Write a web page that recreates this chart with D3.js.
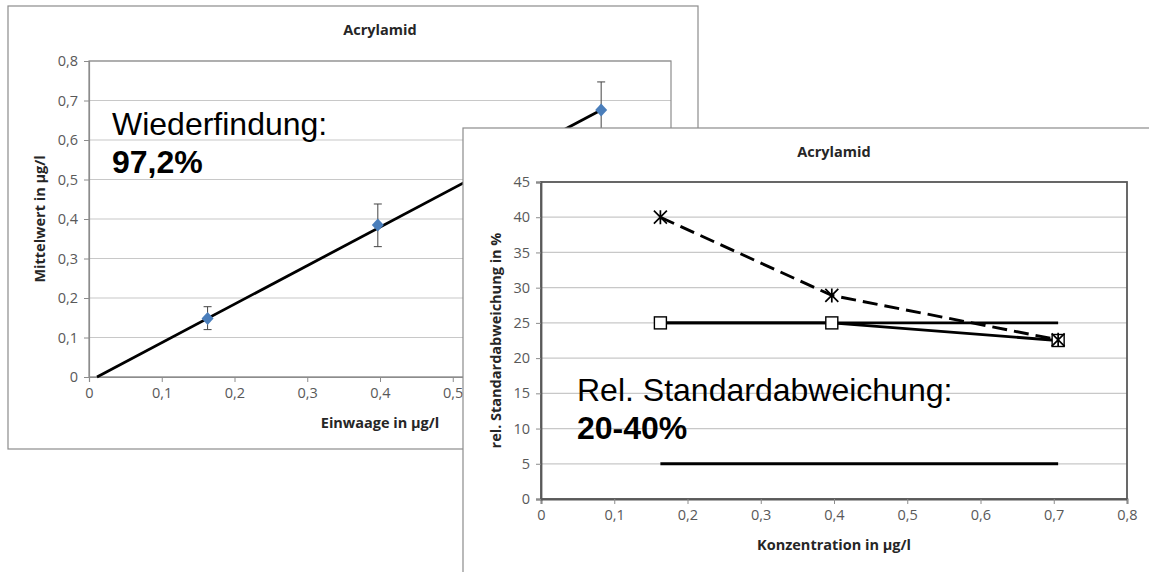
<!DOCTYPE html>
<html>
<head>
<meta charset="utf-8">
<script src="https://cdn.jsdelivr.net/npm/d3@7"></script>
<style>
  body { margin: 0; background: #fff; }
  svg { display: block; }
</style>
</head>
<body>
<svg id="chart" width="1149" height="572"></svg>
<script>
// --- Chart 1: Wiederfindung ---
var einwaage = [0.163, 0.397, 0.704];
var mittelwert = [0.148, 0.385, 0.676];
var fehlerOben = [0.178, 0.438, 0.747];
var fehlerUnten = [0.120, 0.330, 0.605];
var regX = [0.011, 0.704];
var regY = [0, 0.676];
var xTicks1 = [0, 0.1, 0.2, 0.3, 0.4, 0.5, 0.6, 0.7, 0.8];
var yTicks1 = [0, 0.1, 0.2, 0.3, 0.4, 0.5, 0.6, 0.7, 0.8];

// --- Chart 2: rel. Standardabweichung ---
var konz = [0.163, 0.397, 0.706];
var rsdStern = [40, 28.9, 22.6];
var rsdQuadrat = [25, 25, 22.5];
var grenzeOben = [25, 25, 25];
var grenzeUnten = [5, 5, 5];
var xTicks2 = [0, 0.1, 0.2, 0.3, 0.4, 0.5, 0.6, 0.7, 0.8];
var yTicks2 = [0, 5, 10, 15, 20, 25, 30, 35, 40, 45];

var de = d3.formatLocale({ decimal: ',', thousands: '.', grouping: [3], currency: ['', '€'] });
var fmt = de.format('~g');

var svg = d3.select('#chart');
var chartFont = "'Open Sans', sans-serif";
var bigFont = "'Liberation Sans', Arial, sans-serif";

// front panel box (used to drop labels of the back chart hidden under it)
var box2 = { x: 463, y: 128, w: 720, h: 470 };

function drawPanel(box, plot, xDom, yDom, xTicks, yTicks, frameColor, frameWidth) {
	var g = svg.append('g');
	g.append('rect')
		.attr('x', box.x).attr('y', box.y)
		.attr('width', box.w).attr('height', box.h)
		.attr('fill', '#fff')
		.attr('stroke', '#8c8c8c')
		.attr('stroke-width', 1.2);

	var x = d3.scaleLinear().domain(xDom).range([plot.l, plot.r]);
	var y = d3.scaleLinear().domain(yDom).range([plot.b, plot.t]);

	// gridlines
	g.selectAll('.grid')
		.data(yTicks)
		.enter()
		.append('line')
		.attr('x1', plot.l).attr('x2', plot.r)
		.attr('y1', d => y(d)).attr('y2', d => y(d))
		.attr('stroke', '#c8c8c8')
		.attr('stroke-width', 1.2);

	// plot frame
	g.append('rect')
		.attr('x', plot.l).attr('y', plot.t)
		.attr('width', plot.r - plot.l).attr('height', plot.b - plot.t)
		.attr('fill', 'none')
		.attr('stroke', frameColor)
		.attr('stroke-width', frameWidth);

	var xAxis = d3.axisBottom(x).tickValues(xTicks).tickFormat(fmt).tickSize(5).tickPadding(6);
	var yAxis = d3.axisLeft(y).tickValues(yTicks).tickFormat(fmt).tickSize(5).tickPadding(6);

	var ax = g.append('g')
		.attr('transform', 'translate(0,' + plot.b + ')')
		.call(xAxis);
	var ay = g.append('g')
		.attr('transform', 'translate(' + plot.l + ',0)')
		.call(yAxis);

	[ax, ay].forEach(a => {
		a.select('.domain').attr('stroke', frameColor).attr('stroke-width', frameWidth);
		a.selectAll('.tick line').attr('stroke', '#8c8c8c');
		a.selectAll('.tick text')
			.attr('fill', '#595959')
			.style('font', '14.5px ' + chartFont);
	});

	return { g: g, x: x, y: y, ax: ax };
}

function addTitles(p, plot, title, titleY, xLabel, xLabelY, yLabel, yLabelX) {
	var cx = (plot.l + plot.r) / 2;
	var cy = (plot.t + plot.b) / 2;
	p.g.append('text')
		.attr('x', cx).attr('y', titleY)
		.attr('text-anchor', 'middle')
		.attr('fill', '#262626')
		.style('font', 'bold 14.5px ' + chartFont)
		.text(title);
	p.g.append('text')
		.attr('x', cx).attr('y', xLabelY)
		.attr('text-anchor', 'middle')
		.attr('fill', '#262626')
		.style('font', 'bold 14.5px ' + chartFont)
		.text(xLabel);
	p.g.append('text')
		.attr('transform', 'translate(' + yLabelX + ',' + cy + ') rotate(-90)')
		.attr('text-anchor', 'middle')
		.attr('fill', '#262626')
		.style('font', 'bold 14.5px ' + chartFont)
		.text(yLabel);
}

// ---------- Panel 1 ----------
var plot1 = { l: 89, r: 671, t: 61, b: 377 };
var p1 = drawPanel({ x: 8, y: 6, w: 690, h: 443 }, plot1, [0, 0.8], [0, 0.8], xTicks1, yTicks1, '#8c8c8c', 1.2);
addTitles(p1, plot1, 'Acrylamid', 35, 'Einwaage in µg/l', 428, 'Mittelwert in µg/l', 45);

// tick labels of the back chart that sit under the front panel are hidden there
p1.ax.selectAll('.tick')
	.filter(d => p1.x(d) > box2.x)
	.select('text')
	.remove();

// regression line
p1.g.append('path')
	.datum(d3.zip(regX, regY))
	.attr('d', d3.line().x(d => p1.x(d[0])).y(d => p1.y(d[1])))
	.attr('stroke', '#000')
	.attr('stroke-width', 2.8)
	.attr('fill', 'none');

// error bars
var pts1 = einwaage.map((v, i) => ({ x: v, y: mittelwert[i], hi: fehlerOben[i], lo: fehlerUnten[i] }));
var eb = p1.g.selectAll('.eb').data(pts1).enter().append('g');
eb.append('line')
	.attr('x1', d => p1.x(d.x)).attr('x2', d => p1.x(d.x))
	.attr('y1', d => p1.y(d.hi)).attr('y2', d => p1.y(d.lo))
	.attr('stroke', '#444').attr('stroke-width', 1);
eb.append('line')
	.attr('x1', d => p1.x(d.x) - 4).attr('x2', d => p1.x(d.x) + 4)
	.attr('y1', d => p1.y(d.hi)).attr('y2', d => p1.y(d.hi))
	.attr('stroke', '#444').attr('stroke-width', 1);
eb.append('line')
	.attr('x1', d => p1.x(d.x) - 4).attr('x2', d => p1.x(d.x) + 4)
	.attr('y1', d => p1.y(d.lo)).attr('y2', d => p1.y(d.lo))
	.attr('stroke', '#444').attr('stroke-width', 1);

// diamonds
p1.g.selectAll('.dia')
	.data(pts1)
	.enter()
	.append('path')
	.attr('transform', d => 'translate(' + p1.x(d.x) + ',' + p1.y(d.y) + ')')
	.attr('d', 'M0,-6.5L6,0L0,6.5L-6,0Z')
	.attr('fill', '#4a7ebb');

p1.g.append('text')
	.attr('x', 112).attr('y', 135)
	.attr('fill', '#000')
	.style('font', '32px ' + bigFont)
	.text('Wiederfindung:');
p1.g.append('text')
	.attr('x', 112).attr('y', 173)
	.attr('fill', '#000')
	.style('font', 'bold 32px ' + bigFont)
	.text('97,2%');

// ---------- Panel 2 ----------
var plot2 = { l: 541, r: 1127, t: 182, b: 499 };
var p2 = drawPanel(box2, plot2, [0, 0.8], [0, 45], xTicks2, yTicks2, '#595959', 1.8);
addTitles(p2, plot2, 'Acrylamid', 157, 'Konzentration in µg/l', 550, 'rel. Standardabweichung in %', 501);

var line2 = d3.line().x(d => p2.x(d[0])).y(d => p2.y(d[1]));

function drawSeries(vals, dash) {
	p2.g.append('path')
		.datum(d3.zip(konz, vals))
		.attr('d', line2)
		.attr('stroke', '#000')
		.attr('stroke-width', 2.9)
		.attr('stroke-dasharray', dash)
		.attr('fill', 'none');
}

drawSeries(grenzeUnten, null);
drawSeries(grenzeOben, null);
drawSeries(rsdQuadrat, null);
drawSeries(rsdStern, '15,7');

// square markers
p2.g.selectAll('.sq')
	.data(d3.zip(konz, rsdQuadrat))
	.enter()
	.append('rect')
	.attr('x', d => p2.x(d[0]) - 6)
	.attr('y', d => p2.y(d[1]) - 6)
	.attr('width', 12).attr('height', 12)
	.attr('fill', '#fff')
	.attr('stroke', '#000')
	.attr('stroke-width', 1.4);

// star markers
p2.g.selectAll('.star')
	.data(d3.zip(konz, rsdStern))
	.enter()
	.append('path')
	.attr('transform', d => 'translate(' + p2.x(d[0]) + ',' + p2.y(d[1]) + ')')
	.attr('d', 'M-6.5,-6.5L6.5,6.5M-6.5,6.5L6.5,-6.5M0,-7L0,7')
	.attr('stroke', '#000')
	.attr('stroke-width', 1.7)
	.attr('fill', 'none');

p2.g.append('text')
	.attr('x', 577).attr('y', 401)
	.attr('fill', '#000')
	.style('font', '32px ' + bigFont)
	.text('Rel. Standardabweichung:');
p2.g.append('text')
	.attr('x', 577).attr('y', 439)
	.attr('fill', '#000')
	.style('font', 'bold 32px ' + bigFont)
	.text('20-40%');
</script>
</body>
</html>
